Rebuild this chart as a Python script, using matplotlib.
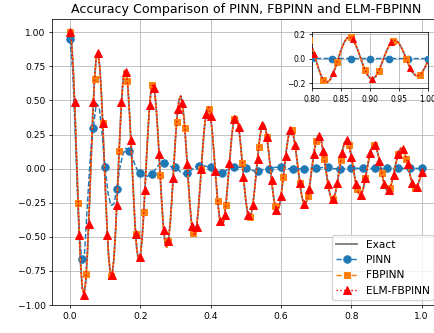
import numpy as np
import matplotlib
matplotlib.use("Agg")
import matplotlib.pyplot as plt
from matplotlib.lines import Line2D

# ---------------- data ----------------
# exact solution sampled every 0.005 on [0, 1]
exact_u = [
    1.000, 0.921, 0.700, 0.375, -0.004, -0.374, -0.678, -0.870, -0.923, -0.830,
    -0.609, -0.298, 0.054, 0.391, 0.659, 0.820, 0.849, 0.745, 0.526, 0.230,
    -0.097, -0.402, -0.638, -0.769, -0.778, -0.665, -0.450, -0.169, 0.132, 0.408,
    0.614, 0.720, 0.711, 0.592, 0.382, 0.117, -0.161, -0.409, -0.587, -0.671,
    -0.647, -0.523, -0.320, -0.071, 0.185, 0.406, 0.560, 0.623, 0.587, 0.461,
    0.265, 0.031, -0.203, -0.401, -0.532, -0.577, -0.531, -0.403, -0.215, 0.003,
    0.217, 0.392, 0.503, 0.532, 0.478, 0.351, 0.171, -0.032, -0.226, -0.381,
    -0.473, -0.490, -0.429, -0.303, -0.131, 0.057, 0.233, 0.369, 0.444, 0.449,
    0.383, 0.259, 0.097, -0.077, -0.236, -0.355, -0.415, -0.410, -0.341, -0.220,
    -0.066, 0.094, 0.237, 0.339, 0.387, 0.373, 0.302, 0.184, 0.040, -0.107,
    -0.235, -0.323, -0.360, -0.339, -0.265, -0.152, -0.017, 0.118, 0.232, 0.307,
    0.333, 0.306, 0.232, 0.123, -0.003, -0.126, -0.227, -0.290, -0.307, -0.276,
    -0.202, -0.098, 0.019, 0.131, 0.220, 0.273, 0.282, 0.247, 0.174, 0.075,
    -0.033, -0.135, -0.213, -0.256, -0.259, -0.221, -0.149, -0.055, 0.045, 0.137,
    0.205, 0.240, 0.236, 0.196, 0.126, 0.038, -0.055, -0.137, -0.196, -0.223,
    -0.215, -0.174, -0.106, -0.023, 0.062, 0.136, 0.187, 0.207, 0.195, 0.153,
    0.087, 0.009, -0.068, -0.134, -0.177, -0.192, -0.177, -0.134, -0.071, 0.002,
    0.073, 0.131, 0.168, 0.177, 0.159, 0.116, 0.056, -0.012, -0.076, -0.127,
    -0.158, -0.163, -0.143, -0.100, -0.043, 0.020, 0.078, 0.123, 0.148, 0.149,
    0.127, 0.086, 0.032, -0.026, -0.079, -0.118, -0.138, -0.136, -0.113, -0.073,
    -0.022,
]
t_exact = np.linspace(0.0, 1.0, len(exact_u))

# FBPINN and ELM-FBPINN curves coincide with the exact curve at this scale
fbpinn_u = list(exact_u)
elm_u = list(exact_u)

# PINN prediction sampled every 1/120 (markers on every 4th sample)
pinn_u = [
    0.95, 0.70, 0.15, -0.40, -0.66, -0.62, -0.25, 0.10, 0.30, 0.48,
    0.45, 0.25, 0.01, -0.18, -0.27, -0.26, -0.15, 0.00, 0.10, 0.15,
    0.13, 0.10, 0.04, -0.01, -0.03, -0.05, -0.06, -0.05, -0.04, -0.01,
    0.02, 0.04, 0.04, 0.03, 0.02, 0.01, 0.01, -0.01, -0.03, -0.04,
    -0.035, -0.02, 0.00, 0.015, 0.02, 0.02, 0.02, 0.015, 0.01, 0.00,
    -0.015, -0.025, -0.03, -0.02, 0.00, 0.01, 0.01, 0.01, 0.01, 0.01,
    0.005, 0.00, -0.01, -0.02, -0.02, -0.015, -0.005, 0.00, 0.00, 0.005,
    0.01, 0.01, 0.01, 0.005, 0.00, 0.00, 0.00, 0.00, 0.00, 0.00,
    0.00, 0.003, 0.005, 0.005, 0.003, 0.005, 0.008, 0.01, 0.01, 0.005,
    0.00, 0.00, 0.00, 0.00, 0.00, 0.002, 0.003, 0.003, 0.003, 0.002,
    0.002, 0.002, 0.002, 0.002, 0.002, 0.002, 0.002, 0.002, 0.002, 0.002,
    0.002, 0.002, 0.002, 0.002, 0.002, 0.002, 0.002, 0.002, 0.002, 0.002,
    0.002,
]
t_pinn = np.linspace(0.0, 1.0, len(pinn_u))

# ELM-FBPINN markers (every 1/75)
elm_mark_u = [
    1.000, 0.492, -0.485, -0.923, -0.409, 0.490, 0.849, 0.334, -0.490, -0.778,
    -0.268, 0.486, 0.711, 0.209, -0.478, -0.647, -0.157, 0.466, 0.588, 0.111,
    -0.453, -0.531, -0.071, 0.437, 0.478, 0.036, -0.420, -0.429, -0.006, 0.401,
    0.383, -0.020, -0.382, -0.341, 0.041, 0.362, 0.302, -0.059, -0.342, -0.265,
    0.074, 0.321, 0.232, -0.086, -0.301, -0.202, 0.096, 0.281, 0.174, -0.103,
    -0.262, -0.149, 0.108, 0.243, 0.126, -0.111, -0.225, -0.106, 0.113, 0.207,
    0.087, -0.114, -0.190, -0.071, 0.114, 0.174, 0.056, -0.112, -0.159, -0.043,
    0.110, 0.144, 0.032, -0.107, -0.131, -0.022,
]
t_elm_mark = np.linspace(0.0, 1.0, len(elm_mark_u))

# FBPINN markers (every 7/300)
fb_mark_u = [
    1.000, -0.255, -0.769, 0.659, 0.334, -0.786, 0.132, 0.643, -0.478, -0.320,
    0.613, -0.049, -0.531, 0.339, 0.295, -0.473, -0.006, 0.434, -0.236, -0.265,
    0.362, 0.040, -0.352, 0.159, 0.232, -0.274, -0.060, 0.283, -0.103, -0.200,
    0.205, 0.069, -0.225, 0.062, 0.170, -0.151, -0.071, 0.177, -0.034, -0.143,
    0.110, 0.069, -0.139,
]
t_fb_mark = np.linspace(0.0, 0.98, len(fb_mark_u))

# inset markers
ins_elm_t = [0.8033, 0.8367, 0.8700, 0.9033, 0.9367, 0.9700]
ins_elm_u = [0.036, -0.115, 0.159, -0.164, 0.134, -0.079]
ins_fb_t = [0.795, 0.819, 0.843, 0.867, 0.891, 0.915, 0.939, 0.963, 0.987]
ins_fb_u = [0.153, -0.171, -0.028, 0.173, -0.088, -0.100, 0.145, -0.003, -0.130]

labels = ["Exact", "PINN", "FBPINN", "ELM-FBPINN"]
title = "Accuracy Comparison of PINN, FBPINN and ELM-FBPINN"

# ---------------- styles ----------------
C_EXACT = "#808080"
C_PINN = "#1f77b4"
C_FB = "#ff7f0e"
C_ELM = "red"
S = 0.68

plt.rcParams.update({
    "font.family": ["DejaVu Sans"],
    "axes.linewidth": 0.8 * S,
    "xtick.major.width": 0.8 * S,
    "ytick.major.width": 0.8 * S,
    "xtick.major.size": 3.5 * S,
    "ytick.major.size": 3.5 * S,
    "xtick.major.pad": 3.5 * S,
    "ytick.major.pad": 3.5 * S,
    "grid.linewidth": 0.8 * S,
    "grid.color": "#b0b0b0",
    "lines.markeredgewidth": 1.0 * S,
    "axes.unicode_minus": True,
})

W, H = 435, 333
fig = plt.figure(figsize=(W / 100, H / 100), dpi=100)

L, R, T, B = 52.3, 439.3, 19.2, 305.3
ax = fig.add_axes([L / W, (H - B) / H, (R - L) / W, (B - T) / H])


def draw(a, ms_scale=1.0, ins=False):
    a.plot(t_exact, exact_u, color=C_EXACT, lw=2.0 * S, zorder=2)
    a.plot(t_pinn, pinn_u, color=C_PINN, ls="--", lw=1.5 * S, marker="o",
           ms=5.4 * ms_scale, markevery=4, zorder=3)
    a.plot(t_exact, fbpinn_u, color=C_FB, ls="--", lw=1.5 * S, zorder=4)
    if ins:
        a.plot(ins_fb_t, ins_fb_u, color=C_FB, ls="none", marker="s",
               ms=4.8 * ms_scale, zorder=4)
    else:
        a.plot(t_fb_mark, fb_mark_u, color=C_FB, ls="none", marker="s",
               ms=4.8 * ms_scale, zorder=4)
    a.plot(t_exact, elm_u, color=C_ELM, ls=":", lw=1.5 * S, zorder=5)
    if ins:
        a.plot(ins_elm_t, ins_elm_u, color=C_ELM, ls="none", marker="^",
               ms=5.4 * ms_scale, zorder=5)
    else:
        a.plot(t_elm_mark, elm_mark_u, color=C_ELM, ls="none", marker="^",
               ms=5.4 * ms_scale, zorder=5)


draw(ax)
ax.set_xlim(-0.05, 1.05)
ax.set_ylim(-1.002, 1.096)
ax.set_xticks([0.0, 0.2, 0.4, 0.6, 0.8, 1.0])
ax.set_yticks([-1.0, -0.75, -0.5, -0.25, 0.0, 0.25, 0.5, 0.75, 1.0])
ax.tick_params(labelsize=6.6)
ax.grid(True)
ax.set_title(title, fontsize=9.1, pad=4.2)

handles = [
    Line2D([], [], color=C_EXACT, lw=2.0 * S),
    Line2D([], [], color=C_PINN, ls="--", lw=1.5 * S, marker="o", ms=5.4),
    Line2D([], [], color=C_FB, ls="--", lw=1.5 * S, marker="s", ms=4.8),
    Line2D([], [], color=C_ELM, ls=":", lw=1.5 * S, marker="^", ms=5.4),
]
ax.legend(handles, labels, loc="lower right", fontsize=7.7,
          borderaxespad=0.5, framealpha=0.8)

# inset
iL, iR, iT, iB = 312.3, 427.7, 32.3, 88.3
axins = fig.add_axes([iL / W, (H - iB) / H, (iR - iL) / W, (iB - iT) / H])
draw(axins, ms_scale=0.9, ins=True)
axins.set_xlim(0.8, 1.0)
axins.set_ylim(-0.24, 0.215)
axins.set_xticks([0.80, 0.85, 0.90, 0.95, 1.00])
axins.set_yticks([-0.2, 0.0, 0.2])
axins.tick_params(labelsize=5.5)
axins.grid(True)

fig.savefig("out.png", dpi=100)
